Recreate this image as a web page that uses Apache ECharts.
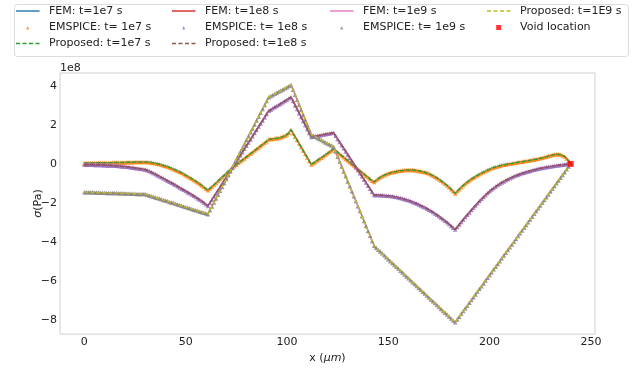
<!DOCTYPE html>
<html><head><meta charset="utf-8">
<script src="https://cdn.jsdelivr.net/npm/echarts@6/dist/echarts.min.js"></script>
<style>html,body{margin:0;padding:0;background:#fff}#c{width:636px;height:369px}</style>
</head><body><div id="c"></div>
<script>
// x positions (µm): 0,1,2,...,240
const xStart = 0, xEnd = 240;
const xPos = [];
for (let x = xStart; x <= xEnd; x++) xPos.push(x);

// stress in units of 1e8 Pa, one value per x position
const sig1e7 = [
0.05,0.05,0.05,0.05,0.05,0.05,0.05,0.06,0.06,0.06,0.06,0.06,0.06,0.06,0.07,0.07,0.07,0.07,0.07,0.07,0.07,0.08,0.08,0.08,0.08,0.09,0.09,0.09,0.09,0.09,0.09, // 0-30
0.09,0.08,0.07,0.05,0.03,0.01,-0.02,-0.05,-0.08,-0.11,-0.14,-0.18,-0.22,-0.27,-0.31,-0.36,-0.41,-0.46,-0.52,-0.58,-0.64,-0.70,-0.76,-0.83,-0.89,-0.96,-1.03,-1.11,-1.19,-1.27,-1.35, // 31-61
-1.26,-1.17,-1.07,-0.98,-0.88,-0.78,-0.69,-0.59,-0.49,-0.39,-0.30,-0.20,-0.12,-0.04,0.04,0.12,0.20,0.28,0.36,0.44,0.52,0.60,0.68,0.76,0.84,0.92,1.00,1.08,1.16,1.25, // 62-91
1.27,1.28,1.30,1.31,1.33,1.36,1.40,1.44,1.51,1.60,1.75, // 92-102
1.57,1.39,1.22,1.04,0.86,0.68,0.50,0.33,0.15,-0.03, // 103-112
0.04,0.10,0.18,0.25,0.32,0.39,0.47,0.54,0.62,0.69,0.77, // 113-123
0.68,0.60,0.51,0.43,0.34,0.25,0.17,0.08,-0.01,-0.09,-0.18,-0.26,-0.35,-0.44,-0.52,-0.61,-0.69,-0.78,-0.86,-0.93, // 124-143
-0.84,-0.76,-0.69,-0.63,-0.58,-0.53,-0.49,-0.46,-0.43,-0.41,-0.39,-0.37,-0.35,-0.34,-0.33,-0.32,-0.32,-0.32,-0.32,-0.33,-0.34,-0.36,-0.38,-0.40,-0.43,-0.46,-0.50,-0.55,-0.60,-0.66,-0.72,-0.79,-0.86,-0.94,-1.02,-1.11,-1.20,-1.30,-1.41,-1.52, // 144-183
-1.41,-1.30,-1.20,-1.10,-1.01,-0.93,-0.85,-0.78,-0.71,-0.65,-0.59,-0.53,-0.47,-0.42,-0.37,-0.32,-0.27,-0.23,-0.19,-0.16,-0.13,-0.10,-0.07,-0.05,-0.03,-0.01,0.01,0.02,0.04,0.06,0.08,0.09,0.11,0.13,0.15,0.16,0.18,0.20,0.22,0.24,0.26,0.29,0.31,0.34,0.37,0.40,0.43,0.45,0.48,0.49,0.49,0.47,0.43,0.38,0.28,0.15,0 // 184-240
];

const sig1e8 = [
-0.05,-0.05,-0.05,-0.05,-0.05,-0.06,-0.06,-0.06,-0.06,-0.07,-0.07,-0.08,-0.08,-0.09,-0.09,-0.10,-0.10,-0.11,-0.12,-0.13,-0.14,-0.15,-0.16,-0.18,-0.19,-0.21,-0.22,-0.24,-0.25,-0.27,-0.29, // 0-30
-0.33,-0.37,-0.42,-0.47,-0.52,-0.58,-0.63,-0.69,-0.74,-0.80,-0.86,-0.92,-0.97,-1.03,-1.09,-1.15,-1.21,-1.27,-1.33,-1.39,-1.45,-1.51,-1.57,-1.64,-1.70,-1.77,-1.84,-1.91,-1.99,-2.07,-2.16, // 31-61
-2.00,-1.83,-1.67,-1.51,-1.35,-1.18,-1.02,-0.86,-0.70,-0.53,-0.37,-0.21,-0.05,0.12,0.28,0.44,0.60,0.77,0.93,1.09,1.25,1.42,1.58,1.74,1.91,2.07,2.23,2.39,2.56,2.72, // 62-91
2.78,2.85,2.91,2.97,3.03,3.10,3.16,3.23,3.29,3.36,3.42, // 92-102
3.22,3.01,2.81,2.60,2.40,2.20,1.99,1.79,1.58,1.38, // 103-112
1.40,1.42,1.44,1.46,1.48,1.50,1.52,1.54,1.56,1.58,1.60, // 113-123
1.44,1.28,1.12,0.96,0.80,0.64,0.48,0.32,0.16,0.00,-0.16,-0.32,-0.48,-0.64,-0.80,-0.96,-1.12,-1.28,-1.44,-1.60, // 124-143
-1.60,-1.60,-1.61,-1.61,-1.62,-1.63,-1.64,-1.65,-1.66,-1.68,-1.70,-1.73,-1.75,-1.78,-1.81,-1.84,-1.87,-1.91,-1.95,-1.99,-2.03,-2.08,-2.13,-2.18,-2.23,-2.29,-2.35,-2.41,-2.47,-2.54,-2.61,-2.68,-2.76,-2.84,-2.92,-3.00,-3.09,-3.18,-3.27,-3.37, // 144-183
-3.24,-3.11,-2.98,-2.85,-2.73,-2.61,-2.49,-2.37,-2.25,-2.13,-2.02,-1.91,-1.80,-1.70,-1.60,-1.50,-1.41,-1.32,-1.24,-1.16,-1.09,-1.02,-0.96,-0.90,-0.84,-0.79,-0.74,-0.69,-0.64,-0.60,-0.56,-0.52,-0.48,-0.45,-0.42,-0.39,-0.36,-0.33,-0.30,-0.28,-0.25,-0.23,-0.21,-0.19,-0.17,-0.15,-0.13,-0.12,-0.10,-0.09,-0.07,-0.06,-0.05,-0.03,-0.02,-0.01,0 // 184-240
];

const sig1e9 = [
-1.45,-1.45,-1.46,-1.46,-1.46,-1.47,-1.47,-1.47,-1.48,-1.48,-1.48,-1.49,-1.49,-1.49,-1.50,-1.50,-1.50,-1.51,-1.51,-1.51,-1.52,-1.52,-1.52,-1.53,-1.53,-1.53,-1.54,-1.54,-1.54,-1.55,-1.55, // 0-30
-1.58,-1.62,-1.65,-1.68,-1.72,-1.75,-1.78,-1.82,-1.85,-1.88,-1.91,-1.95,-1.98,-2.01,-2.05,-2.08,-2.11,-2.15,-2.18,-2.21,-2.25,-2.28,-2.31,-2.35,-2.38,-2.41,-2.45,-2.48,-2.51,-2.55,-2.58, // 31-61
-2.38,-2.18,-1.98,-1.78,-1.58,-1.38,-1.18,-0.98,-0.78,-0.58,-0.38,-0.18,0.02,0.22,0.42,0.62,0.82,1.02,1.22,1.42,1.62,1.82,2.02,2.22,2.42,2.62,2.82,3.02,3.22,3.42, // 62-91
3.48,3.53,3.59,3.65,3.71,3.76,3.82,3.88,3.93,3.99,4.05, // 92-102
3.80,3.54,3.29,3.03,2.78,2.52,2.27,2.01,1.76,1.50, // 103-112
1.44,1.39,1.33,1.27,1.22,1.16,1.10,1.05,0.99,0.94,0.88, // 113-123
0.63,0.37,0.12,-0.14,-0.39,-0.64,-0.90,-1.15,-1.41,-1.66,-1.91,-2.17,-2.42,-2.68,-2.93,-3.18,-3.44,-3.69,-3.95,-4.20, // 124-143
-4.30,-4.40,-4.49,-4.59,-4.69,-4.79,-4.89,-4.99,-5.08,-5.18,-5.28,-5.38,-5.48,-5.57,-5.67,-5.77,-5.87,-5.97,-6.07,-6.16,-6.26,-6.36,-6.46,-6.56,-6.65,-6.75,-6.85,-6.95,-7.05,-7.14,-7.24,-7.34,-7.44,-7.54,-7.63,-7.73,-7.83,-7.93,-8.03,-8.12, // 144-183
-7.98,-7.84,-7.69,-7.55,-7.41,-7.27,-7.12,-6.98,-6.84,-6.70,-6.55,-6.41,-6.27,-6.13,-5.98,-5.84,-5.70,-5.56,-5.41,-5.27,-5.13,-4.99,-4.84,-4.70,-4.56,-4.42,-4.27,-4.13,-3.99,-3.85,-3.70,-3.56,-3.42,-3.28,-3.13,-2.99,-2.85,-2.71,-2.56,-2.42,-2.28,-2.14,-1.99,-1.85,-1.71,-1.57,-1.42,-1.28,-1.14,-1.00,-0.85,-0.71,-0.57,-0.43,-0.28,-0.14,0 // 184-240
];

const voidX = [240];
const voidY = [0];

const femNames = ['FEM: t=1e7 s','FEM: t=1e8 s','FEM: t=1e9 s'];
const emNames = ['EMSPICE: t= 1e7 s','EMSPICE: t= 1e8 s','EMSPICE: t= 1e9 s'];
const prNames = ['Proposed: t=1e7 s','Proposed: t=1e8 s','Proposed: t=1E9 s'];
const voidName = 'Void location';
const xTicks = [0,50,100,150,200,250];
const yTicks = [-8,-6,-4,-2,0,2,4];

const femColors = ['#1f77b4','#d62728','#e377c2'];
const emColors = ['#ff7f0e','#9467bd','#7f7f7f'];
const prColors = ['#2ca02c','#8c564b','#bcbd22'];
const FONT = 'DejaVu Sans';

const curves = [sig1e7, sig1e8, sig1e9];
const pts = ys => xPos.map((x, i) => [x, ys[i]]).filter(p => p[1] !== undefined);

// drawing order like matplotlib: each later artist on top of earlier ones
const series = [];
const legendItems = [];
let zc = 1;
for (let k = 0; k < 3; k++) {
  series.push({name: femNames[k], type: 'line', data: pts(curves[k]), symbol: 'none', z: zc++,
    lineStyle: {color: femColors[k], width: 1.5}, itemStyle: {color: femColors[k]}});
  series.push({name: emNames[k], type: 'scatter', data: pts(curves[k]), symbol: 'triangle', symbolSize: 4.5, z: zc++,
    itemStyle: {color: emColors[k]}});
  series.push({name: prNames[k], type: 'line', data: pts(curves[k]), symbol: 'none', z: zc++,
    lineStyle: {color: prColors[k], width: 1.4, type: [4, 2]}, itemStyle: {color: prColors[k]}});
  legendItems.push({name: femNames[k], kind: 'solid'}, {name: emNames[k], kind: 'tri'}, {name: prNames[k], kind: 'dash'});
}
series.push({name: voidName, type: 'scatter', data: voidX.map((x, i) => [x, voidY[i]]), symbol: 'rect', symbolSize: 6,
  itemStyle: {color: '#ff0000'}, z: zc++});
legendItems.push({name: voidName, kind: 'sq'});

// matplotlib ncol=4 layout: column / row of each legend entry
const legCol = [0,0,0,1,1,1,2,2,3,3];
const legRow = [0,1,2,0,1,2,0,1,0,1];
const colTextX = [49, 205, 363, 520];
const rowY = [12.5, 29, 45];
const icons = {
  solid: 'path://M0,0M28,8M0,3.3L23.5,3.3L23.5,4.7L0,4.7Z',
  dash: 'path://M0,0M28,8M0,3.3L4,3.3L4,4.7L0,4.7ZM6.5,3.3L10.5,3.3L10.5,4.7L6.5,4.7ZM13,3.3L17,3.3L17,4.7L13,4.7ZM19.5,3.3L23.5,3.3L23.5,4.7L19.5,4.7Z',
  tri: 'path://M0,0M28,8M10.2,6L11.7,2.5L13.2,6Z',
  sq: 'path://M0,0M28,8M9.2,1.5L14.2,1.5L14.2,6.5L9.2,6.5Z'
};

const legends = legendItems.map((it, i) => ({
  data: [{name: it.name, icon: icons[it.kind]}],
  left: colTextX[legCol[i]] - 5 - 28, top: rowY[legRow[i]] - 7,
  itemWidth: 28, itemHeight: 8, itemGap: 0, padding: 0, selectedMode: false,
  itemStyle: {borderWidth: 0}, lineStyle: {width: 0},
  textStyle: {fontFamily: FONT, fontSize: 11, color: '#222'}
}));

const minus = v => (v < 0 ? '\u2212' + Math.abs(v) : String(v));

const option = {
  animation: false,
  backgroundColor: '#fff',
  legend: legends,
  grid: {left: 60, right: 41, top: 73, bottom: 29, show: true, borderColor: '#d0d0d0', borderWidth: 1},
  xAxis: {
    type: 'value', min: -12, max: 252,
    axisLine: {show: false}, axisTick: {show: false}, splitLine: {show: false},
    axisLabel: {customValues: xTicks, margin: 3, fontFamily: FONT, fontSize: 11, color: '#222'},
    name: 'x ({i|μm})', nameLocation: 'middle', nameGap: 17,
    nameTextStyle: {fontFamily: FONT, fontSize: 11, color: '#222', rich: {i: {fontFamily: FONT, fontSize: 11, fontStyle: 'italic', color: '#222'}}}
  },
  yAxis: {
    type: 'value', min: -8.73, max: 4.66,
    axisLine: {show: false}, axisTick: {show: false}, splitLine: {show: false},
    axisLabel: {customValues: yTicks, margin: 3, fontFamily: FONT, fontSize: 11, color: '#222', formatter: minus},
    name: '{i|σ}(Pa)', nameLocation: 'middle', nameGap: 16, nameRotate: 90, nameMoveOverlap: false,
    nameTextStyle: {fontFamily: FONT, fontSize: 11, color: '#222', rich: {i: {fontFamily: FONT, fontSize: 11, fontStyle: 'italic', color: '#222'}}}
  },
  graphic: [
    {type: 'rect', left: 12, top: 2, shape: {width: 614, height: 52, r: 3}, style: {fill: 'none', stroke: '#dcdcdc', lineWidth: 1}, z: -1},
    {type: 'text', left: 60, top: 63, style: {text: '1e8', font: '11px "DejaVu Sans"', fill: '#222'}}
  ],
  series: series
};
const chart = echarts.init(document.getElementById('c'));
chart.setOption(option);
</script></body></html>
